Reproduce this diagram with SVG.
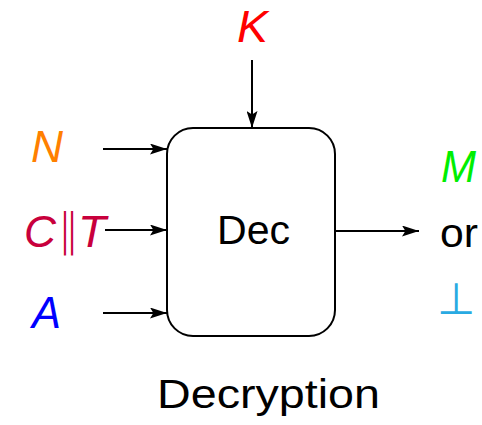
<svg xmlns="http://www.w3.org/2000/svg" width="482" height="425" viewBox="0 0 482 425">
  <defs>
    <marker id="arrow" viewBox="0 0 10 10" refX="10" refY="5" markerWidth="17" markerHeight="11" markerUnits="userSpaceOnUse" orient="auto" preserveAspectRatio="none">
      <path d="M0,0 L10,5 L0,10 L2,5 Z" fill="#000"/>
    </marker>
    <style>
      .lbl { font-family: "Liberation Sans", Arial, sans-serif; font-size: 40px; }
      .math { font-family: "Liberation Sans", Arial, sans-serif; font-size: 44px; font-style: italic; }
      .sym { font-family: "DejaVu Sans", sans-serif; font-weight: 200; font-size: 44px; }
      .edge { stroke: #000; stroke-width: 2; fill: none; marker-end: url(#arrow); }
      .box { fill: #fff; stroke: #000; stroke-width: 2; }
    </style>
  </defs>
  <rect width="482" height="425" fill="#fff"/>

  <g id="connectors">
    <line class="edge" x1="252" y1="60" x2="252" y2="128"/>
    <line class="edge" x1="103" y1="149" x2="167" y2="149"/>
    <line class="edge" x1="105" y1="230" x2="167" y2="230"/>
    <line class="edge" x1="103" y1="313" x2="167" y2="313"/>
    <line class="edge" x1="335" y1="231" x2="419" y2="231"/>
  </g>

  <g id="dec">
    <rect class="box" x="167" y="128" width="168" height="208" rx="26" ry="26"/>
    <text class="lbl" x="217" y="244" textLength="73" lengthAdjust="spacingAndGlyphs">Dec</text>
  </g>

  <g id="key">
    <text class="math" x="237" y="42" fill="#ff0000" textLength="31" lengthAdjust="spacingAndGlyphs">K</text>
  </g>
  <g id="nonce">
    <text class="math" x="31" y="162" fill="#ff8000" textLength="32" lengthAdjust="spacingAndGlyphs">N</text>
  </g>
  <g id="ciphertext" fill="#c8003c">
    <text class="math" x="24" y="247" textLength="32" lengthAdjust="spacingAndGlyphs">C</text>
    <text class="sym" x="68.5" y="245" text-anchor="middle">‖</text>
    <text class="math" x="78" y="247" textLength="28" lengthAdjust="spacingAndGlyphs">T</text>
  </g>
  <g id="ad">
    <text class="math" x="32" y="328" fill="#0000ff" textLength="29" lengthAdjust="spacingAndGlyphs">A</text>
  </g>
  <g id="output">
    <text class="math" x="441" y="182" fill="#00ee00" textLength="35" lengthAdjust="spacingAndGlyphs">M</text>
    <text class="lbl" x="440" y="247" textLength="38" lengthAdjust="spacingAndGlyphs">or</text>
    <text class="sym" x="437" y="314" fill="#29aae2">⊥</text>
  </g>

  <text class="lbl" x="157" y="408" textLength="223" lengthAdjust="spacingAndGlyphs">Decryption</text>
</svg>
